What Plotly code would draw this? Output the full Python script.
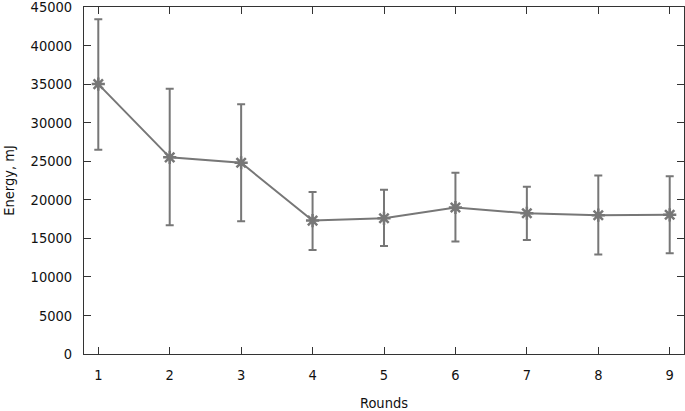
import plotly.graph_objects as go

# Energy per round (mean with lower/upper error-bar ends)
rounds = [1, 2, 3, 4, 5, 6, 7, 8, 9]
energy_mean = [35000, 25500, 24800, 17300, 17600, 19000, 18250, 18000, 18050]
energy_low = [26500, 16700, 17200, 13500, 14000, 14600, 14800, 12900, 13050]
energy_high = [43400, 34400, 32400, 21000, 21300, 23500, 21700, 23150, 23050]
y_ticks = list(range(0, 45001, 5000))

err_plus = [h - m for h, m in zip(energy_high, energy_mean)]
err_minus = [m - l for m, l in zip(energy_mean, energy_low)]

grey = "#777777"
axis_col = "#333333"
font = dict(family="DejaVu Sans Condensed, DejaVu Sans", size=14.5, color="#111111")

fig = go.Figure()
fig.add_trace(
    go.Scatter(
        x=rounds,
        y=energy_mean,
        mode="lines+markers",
        line=dict(color=grey, width=2),
        marker=dict(symbol="asterisk-open", size=11, color=grey,
                    line=dict(color=grey, width=2.5)),
        error_y=dict(type="data", symmetric=False, array=err_plus,
                     arrayminus=err_minus, color=grey, thickness=2, width=4),
        cliponaxis=False,
        showlegend=False,
    )
)

axis_common = dict(
    showgrid=False,
    zeroline=False,
    showline=True,
    linecolor=axis_col,
    linewidth=1,
    mirror="allticks",
    ticks="inside",
    ticklen=7,
    tickcolor=axis_col,
    tickfont=font,
    ticklabeloverflow="allow",
    automargin=False,
)

fig.update_xaxes(
    range=[0.8, 9.2],
    tickvals=rounds,
    ticklabelstandoff=8,
    title=dict(text="Rounds", font=font, standoff=18),
    **axis_common,
)
fig.update_yaxes(
    range=[0, 45000],
    tickvals=y_ticks,
    tickformat="d",
    ticklabelstandoff=8,
    title=dict(text="Energy, mJ", font=font, standoff=12),
    **axis_common,
)

fig.update_layout(
    width=685,
    height=411,
    margin=dict(l=84, r=1, t=7, b=57),
    plot_bgcolor="white",
    paper_bgcolor="white",
)

# page body has a default 8px margin, drop it so the figure fills the window
fig.write_html("out.html", config={"displayModeBar": False},
               post_script="document.body.style.margin='0';")
